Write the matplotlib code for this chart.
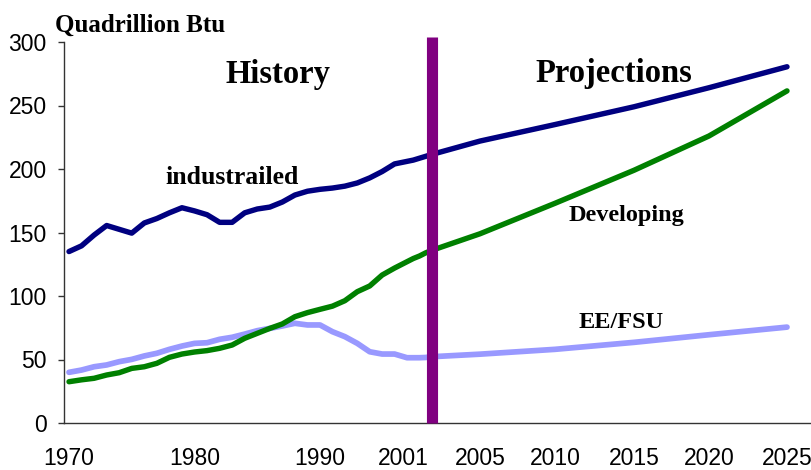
import numpy as np
import matplotlib
matplotlib.use('Agg')
import matplotlib.pyplot as plt

### Data (quadrillion Btu)
hist_years = list(range(1970, 2002))
proj_years = [2005, 2010, 2015, 2020, 2025]

industrialized_hist = [135, 139.5, 148, 155.5, 152.5, 149.5, 157.5, 161, 165.5, 169.5,
                       167, 164, 158, 158, 165.5, 168.5, 170, 174, 179.5, 182.5,
                       184, 185, 186.5, 189, 193, 198, 204, 206, 207, 208.5,
                       210, 211.5]
developing_hist = [32.5, 34, 35.2, 37.8, 39.6, 43, 44.3, 47, 51.7, 54.3,
                   55.9, 57, 58.8, 61.4, 66.7, 70.6, 74.5, 78, 83.7, 86.9,
                   89.5, 92, 96.3, 103.4, 107.9, 116.5, 122, 127, 129.5, 131.5,
                   134, 136]
eefsu_hist = [39.9, 41.7, 44.3, 45.7, 48.3, 50.1, 52.8, 54.9, 58, 60.6,
              62.7, 63.2, 65.9, 67.5, 70, 72.7, 74.5, 76.4, 78.5, 77.2,
              77.2, 71.9, 68, 62.7, 56.1, 54.3, 54.3, 51.4, 51.4, 51.4,
              51.6, 52.2]

industrialized_proj = [222, 235, 249, 264, 280.5]
developing_proj = [149, 173, 199, 226, 261.5]
eefsu_proj = [54.2, 58, 63.5, 69.5, 75.5]

tick_years = [1970, 1980, 1990, 1996.7, 2005, 2010, 2015, 2020, 2025]
tick_labels = ['1970', '1980', '1990', '2001', '2005', '2010', '2015', '2020', '2025']

### The original time axis is not uniform: history is squeezed, projections stretched
knot_yr = np.array([1969.6, 1970, 1990, 1997, 2001, 2005, 2010, 2015, 2020, 2025, 2026.6])
knot_pos = np.array([64, 69, 320, 407, 432, 480, 555, 634, 709, 787, 812], dtype=float)

def piecewise(x, xp, fp):
	x = np.asarray(x, dtype=float)
	out = np.interp(x, xp, fp)
	lo = x < xp[0]
	hi = x > xp[-1]
	out[lo] = fp[0] + (x[lo] - xp[0]) * (fp[1] - fp[0]) / (xp[1] - xp[0])
	out[hi] = fp[-1] + (x[hi] - xp[-1]) * (fp[-1] - fp[-2]) / (xp[-1] - xp[-2])
	return out

def fwd(x):
	return piecewise(x, knot_yr, knot_pos)

def inv(x):
	return piecewise(x, knot_pos, knot_yr)

plt.rcParams['font.family'] = ['Liberation Sans', 'DejaVu Sans']

fig = plt.figure(figsize=(8.12, 4.70), dpi=100)
ax = fig.add_axes([64/812, 47/470, 748/812, 381/470])
ax.set_xscale('function', functions=(fwd, inv))

years = hist_years + proj_years
ax.plot(years, industrialized_hist + industrialized_proj, color='#000080', lw=3.9,
		solid_joinstyle='round', solid_capstyle='round', zorder=2)
ax.plot(years, developing_hist + developing_proj, color='#008000', lw=3.9,
		solid_joinstyle='round', solid_capstyle='round', zorder=2)
ax.plot(years, eefsu_hist + eefsu_proj, color='#9999FF', lw=4.1,
		solid_joinstyle='round', solid_capstyle='round', zorder=1)

### History / projections divider
ax.plot([2001, 2001], [0, 304], color='#800080', lw=8, solid_capstyle='butt',
		clip_on=False, zorder=3)

ax.set_xlim(knot_yr[0], knot_yr[-1])
ax.set_ylim(0, 300)
ax.set_yticks(np.arange(0, 301, 50))
ax.set_xticks(tick_years)
ax.set_xticklabels(tick_labels)
ax.xaxis.set_minor_locator(matplotlib.ticker.NullLocator())

for side in ['top', 'right']:
	ax.spines[side].set_visible(False)
for side in ['left', 'bottom']:
	ax.spines[side].set_color('#333333')
	ax.spines[side].set_linewidth(1.0)

ax.tick_params(axis='y', direction='out', length=4.5, width=1, pad=8,
			   labelsize=16.5, color='#333333')
ax.tick_params(axis='x', length=0, pad=17, labelsize=16.5)

serif = dict(family='Liberation Serif', fontweight='bold', va='baseline')
def px(x, y):
	return x/812, 1 - y/470

fig.text(*px(55, 32), 'Quadrillion Btu', fontsize=18, ha='left', **serif)
fig.text(*px(226, 83), 'History', fontsize=23.5, ha='left', **serif)
fig.text(*px(535, 82), 'Projections', fontsize=23.5, ha='left', **serif)
fig.text(*px(165, 184), 'industrailed', fontsize=18.5, ha='left', **serif)
fig.text(*px(626, 221), 'Developing', fontsize=17.5, ha='center', **serif)
fig.text(*px(621, 328), 'EE/FSU', fontsize=17.5, ha='center', **serif)

fig.savefig('out.png', dpi=100)
